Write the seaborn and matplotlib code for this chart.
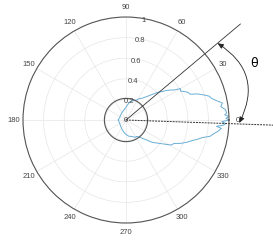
import numpy as np
import pandas as pd
import seaborn as sns
import matplotlib.pyplot as plt

# lobe: angle in degrees, radius (normalised)
angle_deg = [-180, -150, -120, -100, -90, -80, -70, -62, -57, -52, -48, -44,
             -40, -37, -34, -31, -29, -26, -23, -20, -18, -15, -13, -11, -9,
             -7, -5, -4, -3, -2, -1, 0, 1, 2, 3, 4, 6, 8, 10, 12, 14, 16, 18,
             20, 22, 24, 26, 28, 30, 32, 34, 36, 38, 41, 44, 47, 50, 54, 57,
             62, 70, 78, 86, 95, 110, 130, 151, 180]
radius = [0.075, 0.07, 0.09, 0.12, 0.14, 0.16, 0.17, 0.19, 0.19, 0.21, 0.24,
          0.28, 0.34, 0.37, 0.41, 0.46, 0.50, 0.52, 0.58, 0.63, 0.66, 0.72,
          0.76, 0.83, 0.86, 0.90, 0.93, 0.88, 0.95, 0.97, 0.93, 1.0, 0.97,
          1.0, 0.96, 0.98, 0.97, 0.93, 0.95, 0.90, 0.86, 0.84, 0.79, 0.74,
          0.67, 0.66, 0.63, 0.60, 0.61, 0.55, 0.52, 0.49, 0.45, 0.41, 0.36,
          0.32, 0.29, 0.26, 0.25, 0.22, 0.20, 0.18, 0.14, 0.11, 0.09, 0.075,
          0.066, 0.075]

theta_ticks = list(range(0, 360, 30))
r_ticks = [0, 0.2, 0.4, 0.6, 0.8, 1.0]
r_labels = ['0', '0.2', '0.4', '0.6', '0.8', '1']

inner_r = 0.21        # small reference circle
beam_deg = 40         # solid ray
ref_deg = -2          # dashed ray

df = pd.DataFrame({'theta': np.deg2rad(angle_deg), 'r': radius})

plt.rcParams['font.family'] = ['Liberation Sans', 'DejaVu Sans']
fig = plt.figure(figsize=(2.73, 2.40), dpi=100)
ax = fig.add_axes([0.0842, 0.0708, 0.7546, 0.8583], projection='polar')

sns.lineplot(data=df, x='theta', y='r', ax=ax, sort=False, estimator=None,
             color='#6aaed6', linewidth=0.7)

# small circle
tt = np.linspace(0, 2 * np.pi, 200)
ax.plot(tt, np.full_like(tt, inner_r), color='#555555', lw=0.8)

# rays
ax.plot([0, np.deg2rad(beam_deg)], [0, 1.45], color='#333333', lw=0.6, clip_on=False)
ax.plot([0, np.deg2rad(ref_deg)], [0, 1.5], color='#333333', lw=0.7,
        ls=(0, (2, 1)), clip_on=False)

# angle arrow
ax.annotate('', xy=(np.deg2rad(ref_deg + 0.5), 1.10), xytext=(np.deg2rad(beam_deg), 1.16),
            arrowprops=dict(arrowstyle='<|-|>,head_length=0.35,head_width=0.15',
                            connectionstyle='arc3,rad=-0.45', color='#222222', lw=0.6,
                            shrinkA=0, shrinkB=0),
            annotation_clip=False)
ax.text(np.deg2rad(24), 1.36, 'θ', fontsize=9, ha='center', va='center',
        family=['DejaVu Sans'], clip_on=False)

ax.set_ylim(0, 1)
ax.set_xticks(np.deg2rad(theta_ticks))
ax.set_xticklabels([str(t) for t in theta_ticks])
ax.set_yticks(r_ticks)
ax.set_yticklabels([])
for rv, lab in zip(r_ticks, r_labels):
    ax.text(np.deg2rad(80) if rv > 0 else 0, max(rv - 0.02, 0), lab, fontsize=5.5,
            color='#444444', ha='center', va='center')
ax.tick_params(axis='x', labelsize=5.5, colors='#444444', pad=-4)
ax.grid(True, color='#e6e6e6', lw=0.5)
ax.spines['polar'].set_color('#555555')
ax.spines['polar'].set_linewidth(0.8)
ax.set_xlabel('')
ax.set_ylabel('')

fig.savefig('out.png', dpi=100)
